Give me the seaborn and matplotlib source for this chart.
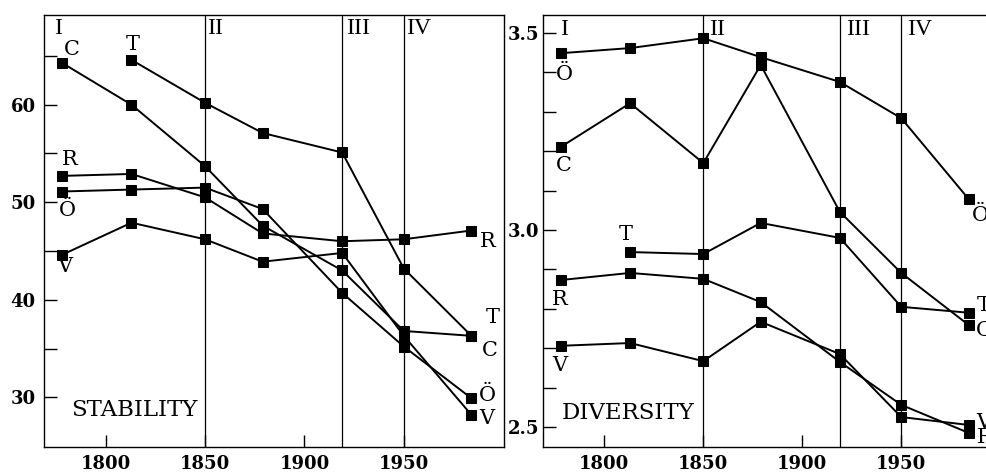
import numpy as np
import pandas as pd
import matplotlib.pyplot as plt
from matplotlib.ticker import FixedLocator
import seaborn as sns

sns.set_style("ticks")
plt.rcParams['font.family'] = ['DejaVu Serif']
plt.rcParams['text.color'] = 'black'
plt.rcParams['xtick.color'] = 'black'
plt.rcParams['ytick.color'] = 'black'
plt.rcParams['axes.edgecolor'] = 'black'

# survey years (same for both panels)
years = [1778, 1813, 1850, 1879, 1919, 1950, 1984]
periods = [1850, 1919, 1950]
period_names = ["I", "II", "III", "IV"]

# stability index
stab_C = [64.3, 60.0, 53.7, 47.6, 43.0, 36.8, 36.3]
stab_T = [np.nan, 64.6, 60.2, 57.1, 55.1, 43.2, 36.3]
stab_R = [52.7, 52.9, 50.5, 46.8, 46.0, 46.2, 47.1]
stab_O = [51.1, 51.3, 51.5, 49.3, 40.7, 35.2, 29.9]
stab_V = [44.6, 47.9, 46.2, 43.9, 44.8, 36.3, 28.2]

# diversity index
div_O = [3.449, 3.462, 3.487, 3.439, 3.376, 3.284, 3.079]
div_C = [3.211, 3.322, 3.170, 3.419, 3.046, 2.891, 2.759]
div_T = [np.nan, 2.944, 2.939, 3.018, 2.980, 2.805, 2.790]
div_R = [2.873, 2.891, 2.876, 2.817, 2.665, 2.556, 2.485]
div_V = [2.706, 2.713, 2.667, 2.767, 2.685, 2.525, 2.505]

stab = pd.DataFrame({"year": years, "C": stab_C, "T": stab_T, "R": stab_R, "Ö": stab_O, "V": stab_V})
div = pd.DataFrame({"year": years, "Ö": div_O, "C": div_C, "T": div_T, "R": div_R, "V": div_V})

fig = plt.figure(figsize=(9.86, 4.74), dpi=100)
ax1 = fig.add_axes([44 / 986, 27 / 474, 460 / 986, 432 / 474])
ax2 = fig.add_axes([543 / 986, 27 / 474, 458 / 986, 432 / 474])

for ax, df in [(ax1, stab), (ax2, div)]:
    for col in df.columns[1:]:
        d = df[["year", col]].dropna()
        sns.lineplot(x=d["year"], y=d[col], ax=ax, color="black", marker="s",
                     markersize=6.5, markeredgecolor="black", linewidth=1.4)
    for p in periods:
        ax.axvline(p, color="black", linewidth=0.9)
    ax.set_xlim(1769, 2000.4)
    ax.set_xlabel("")
    ax.set_ylabel("")
    ax.set_xticks([1800, 1850, 1900, 1950])
    ax.tick_params(which="both", direction="in", length=9, width=1)
    for s in ax.spines.values():
        s.set_visible(True)
        s.set_linewidth(1.0)

ax1.set_ylim(24.9, 69.2)
ax1.set_yticks([30, 40, 50, 60])
ax1.yaxis.set_minor_locator(FixedLocator([35, 45, 55, 65]))
ax1.tick_params(axis="y", pad=6)
ax1.tick_params(axis="x", pad=6)

ax2.set_ylim(2.449, 3.546)
ax2.set_yticks([2.5, 3.0, 3.5])
ax2.set_yticklabels(["2.5", "3.0", "3.5"])
ax2.yaxis.set_minor_locator(FixedLocator([2.6, 2.7, 2.8, 2.9, 3.1, 3.2, 3.3, 3.4]))
ax2.tick_params(axis="y", pad=3)
ax2.tick_params(axis="x", pad=6)
for ax in (ax1, ax2):
    for lab in ax.get_xticklabels() + ax.get_yticklabels():
        lab.set_fontweight("bold")
        lab.set_fontsize(13)

fs = 15
# period labels
for ax, xs, y in [(ax1, [1774.3, 1851, 1921, 1951], 67.8), (ax2, [1777.8, 1852.7, 1922, 1953], 3.51)]:
    for x, name in zip(xs, period_names):
        ax.text(x, y, name, ha="left", va="center", fontsize=17, family="Liberation Serif")

# stability series labels
ax1.text(1783, 65.7, "C", ha="center", va="center", fontsize=fs)
ax1.text(1813.6, 66.2, "T", ha="center", va="center", fontsize=fs)
ax1.text(1782, 54.4, "R", ha="center", va="center", fontsize=fs)
ax1.text(1781, 49.2, "Ö", ha="center", va="center", fontsize=fs)
ax1.text(1779.6, 43.4, "V", ha="center", va="center", fontsize=fs)
ax1.text(1988.5, 46.0, "R", ha="left", va="center", fontsize=fs)
ax1.text(1991, 38.2, "T", ha="left", va="center", fontsize=fs)
ax1.text(1989.5, 34.8, "C", ha="left", va="center", fontsize=fs)
ax1.text(1988, 30.2, "Ö", ha="left", va="center", fontsize=fs)
ax1.text(1988, 27.8, "V", ha="left", va="center", fontsize=fs)
ax1.text(1782.4, 28.7, "STABILITY", ha="left", va="center", fontsize=16.5)

# diversity series labels
ax2.text(1779.7, 3.396, "Ö", ha="center", va="center", fontsize=fs)
ax2.text(1779.7, 3.163, "C", ha="center", va="center", fontsize=fs)
ax2.text(1810.6, 2.988, "T", ha="center", va="center", fontsize=fs)
ax2.text(1777.7, 2.823, "R", ha="center", va="center", fontsize=fs)
ax2.text(1777.7, 2.656, "V", ha="center", va="center", fontsize=fs)
ax2.text(1985.6, 3.038, "Ö", ha="left", va="center", fontsize=fs)
ax2.text(1988, 2.808, "T", ha="left", va="center", fontsize=fs)
ax2.text(1987.5, 2.746, "C", ha="left", va="center", fontsize=fs)
ax2.text(1988, 2.512, "V", ha="left", va="center", fontsize=fs)
ax2.text(1988, 2.474, "R", ha="left", va="center", fontsize=fs)
ax2.text(1778.7, 2.536, "DIVERSITY", ha="left", va="center", fontsize=16.5)

fig.savefig("out.png", dpi=100)
